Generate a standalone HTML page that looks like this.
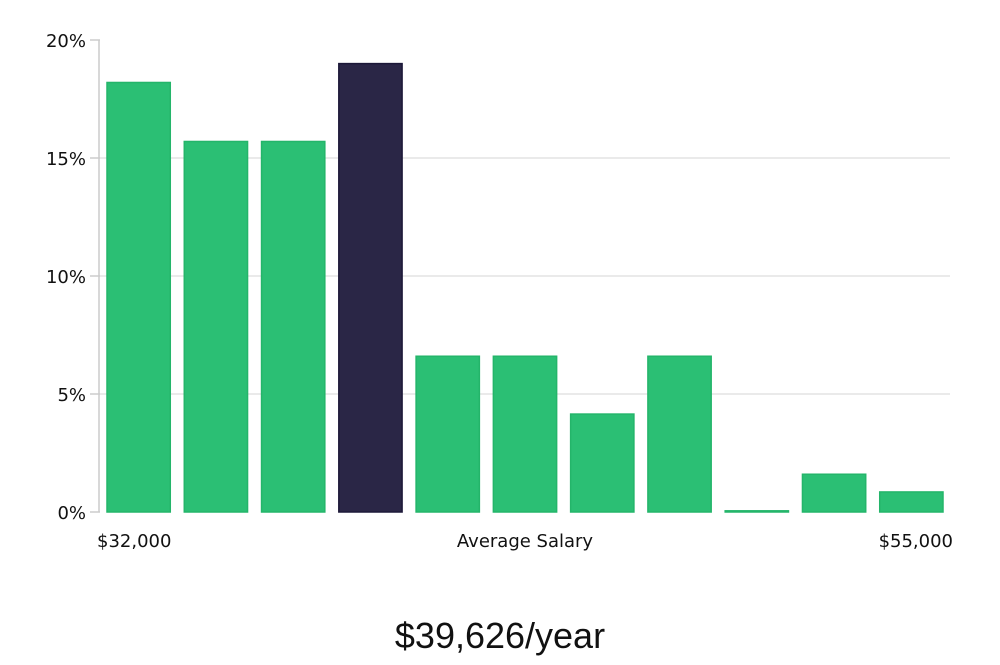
<!DOCTYPE html>
<html><head><meta charset="utf-8"><style>
body{margin:0;background:#fff;}
svg text{font-family:"DejaVu Sans","Liberation Sans",sans-serif;}
</style></head><body>
<svg width="1000" height="660" viewBox="0 0 1000 660">
<g id="grid"></g>
<g id="bars"></g>
<g id="axis"></g>
<text x="97" y="547" font-size="18" fill="#111">$32,000</text>
<text x="525" y="547" font-size="18" fill="#111" text-anchor="middle">Average Salary</text>
<text x="953" y="547" font-size="18" fill="#111" text-anchor="end">$55,000</text>
<text x="500" y="648" font-size="36" fill="#111" text-anchor="middle" font-family="Liberation Sans, sans-serif" style="font-family:'Liberation Sans',sans-serif;font-weight:300">$39,626/year</text>
</svg>
<script>
const categories=["b1","b2","b3","b4","b5","b6","b7","b8","b9","b10","b11"];
const values=[18.2,15.7,15.7,19.0,6.6,6.6,4.15,6.6,0.05,1.6,0.85];
const highlight=[false,false,false,true,false,false,false,false,false,false,false];
const ticks=[0,5,10,15,20];
const tickLabels=["0%","5%","10%","15%","20%"];
const NS="http://www.w3.org/2000/svg";
const x0=100,x1=950,yBase=512,yTop=40,maxV=20;
const y=v=>yBase-(v/maxV)*(yBase-yTop);
const band=(x1-x0)/categories.length;
function mk(t,a,p){const e=document.createElementNS(NS,t);for(const k in a)e.setAttribute(k,a[k]);p.appendChild(e);return e;}
const grid=document.getElementById('grid'),axis=document.getElementById('axis'),bars=document.getElementById('bars');
ticks.forEach((t,i)=>{
 if(t>0&&t<maxV){const g=mk('line',{x1:x0,x2:x1,y1:y(t),y2:y(t),stroke:'#e3e3e3','stroke-width':1.5},grid);
 
 }
 const tk=mk('line',{x1:90,x2:x0,y1:y(t),y2:y(t),stroke:'#ccc','stroke-width':1.5},axis);
 
 
 const lb=mk('text',{x:86,y:y(t)+7,'font-size':18,fill:'#111','text-anchor':'end'},axis);
 lb.textContent=tickLabels[i];
 
 
});
const al=mk('line',{x1:x0-1,x2:x0-1,y1:yTop,y2:yBase,stroke:'#ccc','stroke-width':1.5},axis);


values.forEach((v,i)=>{
 const bx=x0+i*band+7,bw=band-14;
 const r=mk('rect',{x:bx,y:y(v),width:bw,height:Math.max(1,yBase-y(v)),fill:highlight[i]?'#2a2646':'#2bbf74',stroke:highlight[i]?'#1c1838':'#24b56a','stroke-width':1.5},bars);
 
 
});
</script>
</body></html>
